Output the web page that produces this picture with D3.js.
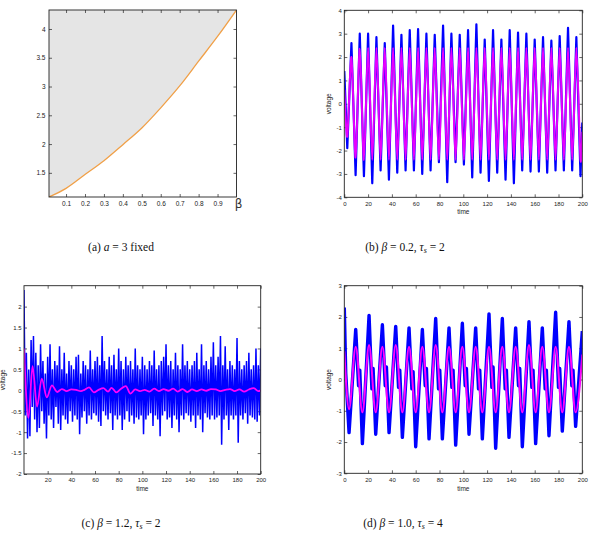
<!DOCTYPE html>
<html>
<head>
<meta charset="utf-8">
<script src="https://cdn.jsdelivr.net/npm/d3@7"></script>
<style>
  body { margin: 0; background: #fff; }
</style>
</head>
<body>
<script>
// ---- (a) boundary curve, a = 3 fixed
var aBeta  = [0.01, 0.1, 0.2, 0.3, 0.4, 0.5, 0.6, 0.7, 0.8, 0.9, 1.0];
var aValue = [1.08, 1.23, 1.47, 1.71, 1.99, 2.28, 2.63, 3.01, 3.44, 3.87, 4.33];
var aXTicks = [0.1, 0.2, 0.3, 0.4, 0.5, 0.6, 0.7, 0.8, 0.9];
var aYTicks = [1.5, 2, 2.5, 3, 3.5, 4];

// ---- (b) beta = 0.2, tau_s = 2 (peaks and troughs)
var bTime = [0, 2.5, 6, 9.5, 13, 16.5, 20, 23.5, 27, 30.5, 34, 37.5, 41, 44.5, 48, 51.5, 55, 58.5,
  62, 65.5, 69, 72.5, 76, 79.5, 83, 86.5, 90, 93.5, 97, 100.5, 104, 107.5, 111, 114.5, 118, 121.5,
  125, 128.5, 132, 135.5, 139, 142.5, 146, 149.5, 153, 156.5, 160, 163.5, 167, 170.5, 174, 177.5,
  181, 184.5, 188, 191.5, 195, 198.5, 200];
var bBlue = [1.4, -1.9, 2.6, -3.05, 3.0, -3.1, 3.0, -3.4, 2.85, -2.85, 2.6, -3.25, 3.35, -2.95, 2.95,
  -2.85, 3.15, -2.85, 3.2, -3.0, 3.0, -2.85, 2.95, -2.5, 3.35, -3.35, 3.0, -2.5, 2.95, -2.6, 3.15,
  -3.15, 3.4, -2.95, 2.75, -3.3, 3.15, -2.95, 2.75, -3.25, 3.15, -3.4, 3.05, -2.85, 3.0, -2.9, 2.75,
  -2.9, 2.85, -2.95, 2.7, -2.85, 2.9, -2.85, 3.25, -2.85, 2.85, -3.1, -0.8];
var bMagenta = [0.6, -1.4, 2.0, -2.3, 2.35, -2.4, 2.4, -2.4, 2.4, -2.4, 2.4, -2.4, 2.4, -2.4, 2.4,
  -2.4, 2.4, -2.4, 2.4, -2.4, 2.4, -2.4, 2.4, -2.4, 2.4, -2.4, 2.4, -2.4, 2.4, -2.4, 2.4,
  -2.4, 2.4, -2.4, 2.4, -2.4, 2.4, -2.4, 2.4, -2.4, 2.4, -2.4, 2.4, -2.4, 2.4, -2.4, 2.4,
  -2.4, 2.4, -2.4, 2.4, -2.4, 2.4, -2.4, 2.4, -2.4, 2.4, -2.4, -1.2];

// ---- (c) beta = 1.2, tau_s = 2 (blue sampled every time unit)
var cBlue = [
  2.4, -0.6, 0.9, -1.15, 0.5, -1.1, 1.2, -0.4, 1.3, -0.7, 0.9, -1.0, 0.6, -0.9, 1.1, -0.5, 0.7, -0.8, 0.4, -1.15,
  0.8, -0.6, 1.1, -0.7, 0.5, -0.9, 0.7, -0.4, 0.6, -0.8, 1.05, -0.95, 0.5, -0.6, 0.9, -0.7, 0.4, -0.8, 0.7, -0.5,
  0.6, -0.75, 0.5, -0.6, 0.8, -0.7, 0.85, -1.05, 0.4, -0.65, 0.7, -0.5, 0.6, -0.8, 0.5, -0.6, 0.95, -0.7, 0.5, -0.55,
  0.7, -0.6, 0.8, -0.75, 0.6, -0.85, 1.3, -0.5, 0.7, -0.6, 0.5, -0.7, 0.8, -0.55, 0.6, -0.95, 0.85, -0.6, 0.5, -0.7,
  1.0, -0.6, 0.7, -0.95, 0.5, -0.7, 0.8, -0.5, 0.6, -0.75, 0.7, -0.6, 0.5, -0.8, 1.0, -0.65, 0.6, -0.7, 0.5, -0.6,
  0.8, -1.05, 0.6, -0.7, 0.5, -0.6, 0.7, -0.55, 0.6, -0.85, 0.95, -0.6, 0.5, -0.7, 0.6, -1.1, 0.7, -0.6, 0.8, -0.5,
  1.1, -0.7, 0.6, -0.65, 0.7, -0.9, 0.5, -0.6, 0.9, -0.7, 0.6, -1.0, 0.5, -0.6, 1.1, -0.7, 0.6, -0.55, 0.7, -0.6,
  0.5, -0.75, 0.6, -0.6, 0.7, -0.9, 0.9, -0.6, 0.5, -0.7, 1.1, -1.0, 0.6, -0.55, 0.7, -0.65, 0.5, -0.7, 0.8, -0.6,
  1.15, -0.7, 0.6, -0.65, 0.8, -0.6, 1.3, -1.3, 0.6, -0.7, 1.05, -0.6, 0.5, -0.95, 0.7, -0.6, 0.6, -0.7, 0.5, -0.6,
  1.25, -1.25, 0.7, -0.6, 0.5, -0.7, 0.6, -0.55, 0.7, -0.8, 0.9, -0.6, 0.5, -0.65, 0.6, -0.7, 1.0, -0.75, 0.6, -0.6,
  1.0];
var cMagTime = [0, 3.8, 7.2, 11, 15, 19.3, 23.6, 28, 32, 36, 40, 44, 48, 51, 55, 59, 63, 67, 71, 74,
  78, 82, 86, 90, 94, 98, 102, 106, 110, 114, 118, 122, 126, 130, 134, 138, 142, 146, 150, 154,
  158, 162, 166, 170, 174, 178, 182, 186, 190, 194, 198, 200];
var cMagenta = [1.0, -0.66, 0.58, -0.39, 0.28, -0.17, 0.12, -0.04, 0.03, -0.02, 0.02, 0.01, -0.02, 0.01,
  0.07, -0.05, 0.01, 0.05, -0.03, 0.06, -0.05, 0.04, 0.1, -0.08, 0.02, -0.02, 0.01, -0.03, 0.04, -0.02,
  0.03, -0.01, 0.04, -0.03, 0.03, -0.04, 0.02, -0.02, 0.02, -0.01, 0.03, 0.02, -0.02, 0.01, 0.03, -0.02,
  0.02, -0.03, 0.02, 0.05, -0.02, 0.0];

// ---- (d) beta = 1.0, tau_s = 4
var dBlueTime = [0, 1.2, 4.0, 9.6, 12.0, 13.0, 15.2, 20.8, 23.2, 24.2, 26.4, 32.0, 34.4, 35.4, 37.6,
  43.2, 45.6, 46.6, 48.8, 54.4, 56.8, 57.8, 60.0, 65.6, 68.0, 69.0, 71.2, 76.8, 79.2, 80.2, 82.4,
  88.0, 90.4, 91.4, 93.6, 99.2, 101.6, 102.6, 104.8, 110.4, 112.8, 113.8, 116.0, 121.6, 124.0, 125.0,
  127.2, 132.8, 135.2, 136.2, 138.4, 144.0, 146.4, 147.4, 149.6, 155.2, 157.6, 158.6, 160.8, 166.4,
  168.8, 169.8, 172.0, 177.6, 180.0, 181.0, 183.2, 188.8, 191.2, 192.2, 194.4, 200];
var dBlue = [2.3, 0.2, -1.7, 1.6, -0.2, 0.3, -2.05, 2.05, -0.3, 0.35, -1.75, 1.75, -0.2, 0.4, -1.7,
  1.7, -0.25, 0.3, -1.85, 1.65, -0.3, 0.25, -2.15, 1.6, -0.2, 0.35, -1.9, 1.95, -0.3, 0.3, -1.9,
  1.65, -0.25, 0.3, -2.1, 1.8, -0.2, 0.35, -1.75, 1.65, -0.3, 0.3, -1.9, 2.1, -0.25, 0.4,
  -2.2, 1.95, -0.3, 0.3, -1.85, 1.65, -0.2, 0.35, -2.15, 1.85, -0.25, 0.3, -2.05, 1.65,
  -0.3, 0.3, -1.8, 2.15, -0.25, 0.35, -1.65, 1.85, -0.2, 0.3, -1.5, 1.55];
var dMagTime = [0, 4.0, 9.6, 15.2, 20.8, 26.4, 32.0, 37.6, 43.2, 48.8, 54.4, 60.0, 65.6, 71.2, 76.8,
  82.4, 88.0, 93.6, 99.2, 104.8, 110.4, 116.0, 121.6, 127.2, 132.8, 138.4, 144.0, 149.6, 155.2,
  160.8, 166.4, 172.0, 177.6, 183.2, 188.8, 194.4, 200];
var dMagenta = [0.9, -0.95, 1.05, -1.05, 1.1, -1.05, 1.05, -1.05, 1.1, -1.05, 1.05, -1.05, 1.05, -1.05,
  1.1, -1.05, 1.05, -1.05, 1.05, -1.05, 1.05, -1.05, 1.05, -1.05, 1.05, -1.05, 1.05, -1.05, 1.1,
  -1.05, 1.05, -1.05, 1.05, -1.05, 1.05, -1.05, 0.8];

var timeTicks = [0, 20, 40, 60, 80, 100, 120, 140, 160, 180, 200];
var cTimeTicks = [20, 40, 60, 80, 100, 120, 140, 160, 180, 200];
var bVoltTicks = [-4, -3, -2, -1, 0, 1, 2, 3, 4];
var cVoltTicks = [-2, -1.5, -1, -0.5, 0, 0.5, 1, 1.5, 2];
var dVoltTicks = [-3, -2, -1, 0, 1, 2, 3];

var BLUE = "#0000ff", MAGENTA = "#ff00ff";
var SANS = "'Liberation Sans', Arial, sans-serif";
var SERIF = "'Liberation Serif', 'Times New Roman', serif";

var svg = d3.select("body").append("svg").attr("width", 592).attr("height", 535);

function frame(id, box, x, y, xt, yt, fs, xpad, ypad) {
  var g = svg.append("g");
  g.append("clipPath").attr("id", id)
    .append("rect").attr("x", box.l).attr("y", box.t)
    .attr("width", box.r - box.l).attr("height", box.b - box.t);
  var fmt = function (d) { return String(d); };
  var axes = g.append("g").attr("class", "axes");
  axes.append("g").attr("transform", "translate(0," + box.b + ")")
    .call(d3.axisBottom(x).tickValues(xt).tickSize(-3).tickPadding(xpad).tickFormat(fmt));
  axes.append("g").attr("transform", "translate(0," + box.t + ")")
    .call(d3.axisTop(x).tickValues(xt).tickSize(-3).tickFormat(""));
  axes.append("g").attr("transform", "translate(" + box.l + ",0)")
    .call(d3.axisLeft(y).tickValues(yt).tickSize(-3).tickPadding(ypad).tickFormat(fmt));
  axes.append("g").attr("transform", "translate(" + box.r + ",0)")
    .call(d3.axisRight(y).tickValues(yt).tickSize(-3).tickFormat(""));
  axes.selectAll(".domain").remove();
  axes.selectAll("line").attr("stroke", "#222").attr("stroke-width", 0.7);
  axes.selectAll("text").attr("font-family", SANS).attr("font-size", fs).attr("fill", "#222");
  return g;
}

function box(g, b) {
  g.append("rect").attr("x", b.l).attr("y", b.t)
    .attr("width", b.r - b.l).attr("height", b.b - b.t)
    .attr("fill", "none").attr("stroke", "#222").attr("stroke-width", 0.9);
}

function axisTitles(b, timeY, voltX) {
  svg.append("text").attr("x", (b.l + b.r) / 2).attr("y", timeY)
    .attr("text-anchor", "middle").attr("font-family", SANS).attr("font-size", 6.5)
    .attr("fill", "#222").text("time");
  svg.append("text")
    .attr("transform", "translate(" + voltX + "," + (b.t + b.b) / 2 + ") rotate(-90)")
    .attr("text-anchor", "middle").attr("dy", "0.35em")
    .attr("font-family", SANS).attr("font-size", 6.5).attr("fill", "#222").text("voltage");
}

function caption(cx, y, parts) {
  var t = svg.append("text").attr("x", cx).attr("y", y).attr("text-anchor", "middle")
    .attr("font-family", SERIF).attr("font-size", 11.5).attr("fill", "#111");
  parts.forEach(function (p) {
    var s = t.append("tspan").text(p[0]);
    if (p[1] === "i") s.attr("font-style", "italic");
    if (p[1] === "sub") s.attr("font-style", "italic").attr("font-size", 8).attr("dy", 2.5);
    if (p[2]) s.attr("dy", p[2]);
  });
}

// ================= (a)
var boxA = { l: 49, r: 236.5, t: 10, b: 197 };
var xA = d3.scaleLinear().domain([0.01, 1]).range([boxA.l, boxA.r]);
var yA = d3.scaleLinear().domain([1.08, 4.33]).range([boxA.b, boxA.t]);
var gA = frame("clipA", boxA, xA, yA, aXTicks, aYTicks, 6.5, 4, 3.5);
var aData = aBeta.map(function (b, i) { return [b, aValue[i]]; });
gA.insert("path", ".axes").datum(aData)
  .attr("clip-path", "url(#clipA)")
  .attr("fill", "#e5e5e5")
  .attr("d", d3.area().curve(d3.curveMonotoneX)
    .x(function (d) { return xA(d[0]); })
    .y0(yA(4.33))
    .y1(function (d) { return yA(d[1]); }));
gA.append("path").datum(aData)
  .attr("clip-path", "url(#clipA)")
  .attr("fill", "none").attr("stroke", "#f0a048").attr("stroke-width", 1.3)
  .attr("d", d3.line().curve(d3.curveMonotoneX)
    .x(function (d) { return xA(d[0]); })
    .y(function (d) { return yA(d[1]); }));
box(gA, boxA);
svg.append("text").attr("x", 238.5).attr("y", 208).attr("text-anchor", "middle")
  .attr("font-family", "'DejaVu Sans', sans-serif").attr("font-size", 12).attr("fill", "#333")
  .text("β");

// ================= (b)
var boxB = { l: 344.3, r: 582.3, t: 10.3, b: 197.3 };
var xB = d3.scaleLinear().domain([0, 200]).range([boxB.l, boxB.r]);
var yB = d3.scaleLinear().domain([-4, 4]).range([boxB.b, boxB.t]);
var gB = frame("clipB", boxB, xB, yB, timeTicks, bVoltTicks, 6, 4, 2.5);
gB.append("path").datum(bTime.map(function (t, i) { return [t, bBlue[i]]; }))
  .attr("clip-path", "url(#clipB)")
  .attr("fill", "none").attr("stroke", BLUE).attr("stroke-width", 2.2).attr("stroke-linejoin", "round")
  .attr("d", d3.line().x(function (d) { return xB(d[0]); }).y(function (d) { return yB(d[1]); }));
gB.append("path").datum(bTime.map(function (t, i) { return [t, bMagenta[i]]; }))
  .attr("clip-path", "url(#clipB)")
  .attr("fill", "none").attr("stroke", MAGENTA).attr("stroke-width", 2).attr("stroke-opacity", 0.9)
  .attr("d", d3.line().curve(d3.curveCardinal.tension(0.2))
    .x(function (d) { return xB(d[0]); }).y(function (d) { return yB(d[1]); }));
box(gB, boxB);
axisTitles(boxB, 214, 328.5);

// ================= (c)
var boxC = { l: 24, r: 260.7, t: 285.7, b: 474 };
var xC = d3.scaleLinear().domain([0, 200]).range([boxC.l, boxC.r]);
var yC = d3.scaleLinear().domain([-2, 2.5]).range([boxC.b, boxC.t]);
var gC = frame("clipC", boxC, xC, yC, cTimeTicks, cVoltTicks, 6, 4, 2.5);
gC.append("path").datum(cBlue)
  .attr("clip-path", "url(#clipC)")
  .attr("fill", "none").attr("stroke", BLUE).attr("stroke-width", 1.5)
  .attr("d", d3.line().x(function (d, i) { return xC(i); }).y(function (d) { return yC(d); }));
gC.append("path").datum(cMagTime.map(function (t, i) { return [t, cMagenta[i]]; }))
  .attr("clip-path", "url(#clipC)")
  .attr("fill", "none").attr("stroke", MAGENTA).attr("stroke-width", 1.8)
  .attr("d", d3.line().curve(d3.curveMonotoneX)
    .x(function (d) { return xC(d[0]); }).y(function (d) { return yC(d[1]); }));
box(gC, boxC);
axisTitles(boxC, 490.5, 3);

// ================= (d)
var boxD = { l: 344.3, r: 582.3, t: 285.7, b: 473.3 };
var xD = d3.scaleLinear().domain([0, 200]).range([boxD.l, boxD.r]);
var yD = d3.scaleLinear().domain([-3, 3]).range([boxD.b, boxD.t]);
var gD = frame("clipD", boxD, xD, yD, timeTicks, dVoltTicks, 6, 4, 2.5);
gD.append("path").datum(dBlueTime.map(function (t, i) { return [t, dBlue[i]]; }))
  .attr("clip-path", "url(#clipD)")
  .attr("fill", "none").attr("stroke", BLUE).attr("stroke-width", 3.4).attr("stroke-linejoin", "round")
  .attr("d", d3.line().x(function (d) { return xD(d[0]); }).y(function (d) { return yD(d[1]); }));
gD.append("path").datum(dMagTime.map(function (t, i) { return [t, dMagenta[i]]; }))
  .attr("clip-path", "url(#clipD)")
  .attr("fill", "none").attr("stroke", MAGENTA).attr("stroke-width", 2)
  .attr("d", d3.line().curve(d3.curveMonotoneX)
    .x(function (d) { return xD(d[0]); }).y(function (d) { return yD(d[1]); }));
box(gD, boxD);
axisTitles(boxD, 490.5, 328.5);

// ================= captions
caption(121, 250.5, [["(a)  "], ["a", "i"], [" = 3 fixed"]]);
caption(405, 250.5, [["(b)  "], ["β", "i"], [" = 0.2, "], ["τ", "i"], ["s", "sub"], [" = 2", "", -2.5]]);
caption(121, 526.5, [["(c)  "], ["β", "i"], [" = 1.2, "], ["τ", "i"], ["s", "sub"], [" = 2", "", -2.5]]);
caption(403, 526.5, [["(d)  "], ["β", "i"], [" = 1.0, "], ["τ", "i"], ["s", "sub"], [" = 4", "", -2.5]]);
</script>
</body>
</html>
